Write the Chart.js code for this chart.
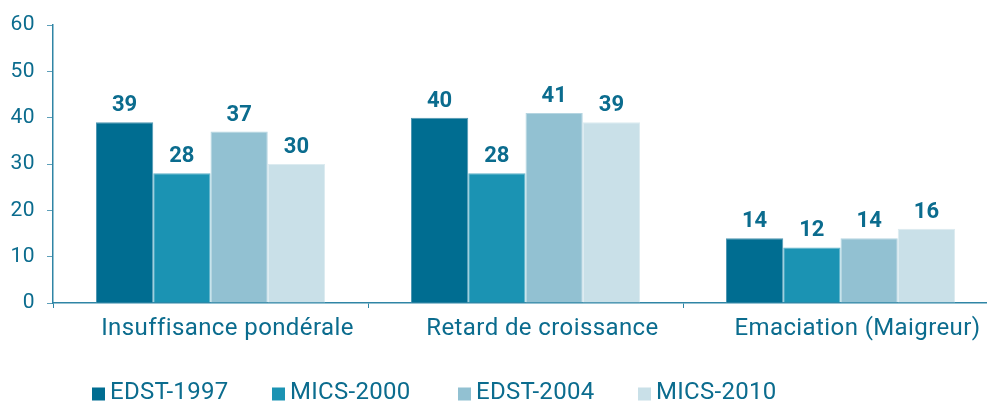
<!DOCTYPE html>
<html>
<head>
<meta charset="utf-8">
<script src="https://cdn.jsdelivr.net/npm/chart.js@4/dist/chart.umd.min.js"></script>
<style>
  html, body { margin: 0; padding: 0; background: #fff; overflow: hidden; }
  #wrap { width: 987px; height: 401px; overflow: hidden; position: relative; }
  canvas { display: block; }
</style>
</head>
<body>
<div id="wrap"><canvas id="c" width="998" height="401"></canvas></div>
<script>
const categories = ["Insuffisance pondérale", "Retard de croissance", "Emaciation (Maigreur)"];
const seriesNames = ["EDST-1997", "MICS-2000", "EDST-2004", "MICS-2010"];
const edst1997 = [39, 40, 14];
const mics2000 = [28, 28, 12];
const edst2004 = [37, 41, 14];
const mics2010 = [30, 39, 16];
const yTicks = [0, 10, 20, 30, 40, 50, 60];

const fills = ["#006d91", "#1b93b3", "#92c1d2", "#c9e0e8"];
const edges = ["#4f97b2", "#5eb2c9", "#b5d5e1", "#dcebf0"];
const TEXT = "#0b6c8e";
const AXIS = "#2f85a5";
const FONT = "Roboto, 'Liberation Sans', sans-serif";

const spacing = {
  id: "spacing",
  beforeDraw(chart) { chart.ctx.letterSpacing = "0.4px"; }
};

const valueLabels = {
  id: "valueLabels",
  afterDatasetsDraw(chart) {
    const ctx = chart.ctx;
    ctx.save();
    ctx.letterSpacing = "0px";
    ctx.font = "bold 22px " + FONT;
    ctx.fillStyle = TEXT;
    ctx.textAlign = "center";
    ctx.textBaseline = "alphabetic";
    chart.data.datasets.forEach((ds, i) => {
      chart.getDatasetMeta(i).data.forEach((bar, j) => {
        ctx.fillText(String(ds.data[j]), bar.x, bar.y - 11);
      });
    });
    ctx.restore();
  }
};

const customLegend = {
  id: "customLegend",
  afterDraw(chart) {
    const ctx = chart.ctx;
    const xs = [92, 272, 458, 638];
    ctx.save();
    ctx.letterSpacing = "0.3px";
    ctx.font = "24px " + FONT;
    ctx.textBaseline = "alphabetic";
    ctx.textAlign = "left";
    chart.data.datasets.forEach((ds, i) => {
      ctx.fillStyle = ds.backgroundColor;
      ctx.fillRect(xs[i], 387.5, 13, 13);
      ctx.fillStyle = TEXT;
      ctx.fillText(ds.label, xs[i] + 18, 399);
    });
    ctx.restore();
  }
};

const seriesData = [edst1997, mics2000, edst2004, mics2010];

new Chart(document.getElementById("c"), {
  type: "bar",
  data: {
    labels: categories,
    datasets: seriesNames.map((name, i) => ({
      label: name,
      data: seriesData[i],
      backgroundColor: fills[i],
      borderColor: edges[i],
      borderWidth: 1,
      barPercentage: 1.0,
      categoryPercentage: 0.727
    }))
  },
  options: {
    responsive: false,
    animation: false,
    devicePixelRatio: 1,
    layout: { padding: { top: 25, right: 0, bottom: 0, left: 0 } },
    plugins: {
      legend: { display: false },
      tooltip: { enabled: false }
    },
    scales: {
      x: {
        afterFit(s) { s.height = 98; },
        grid: {
          display: true,
          offset: true,
          drawOnChartArea: false,
          drawTicks: true,
          tickLength: 5,
          color: AXIS,
          lineWidth: 1
        },
        border: { display: true, color: AXIS, width: 1.5 },
        ticks: {
          color: TEXT,
          font: { family: FONT, size: 24 },
          padding: 7,
          labelOffset: 17,
          maxRotation: 0
        }
      },
      y: {
        min: 0,
        max: 60,
        afterFit(s) { s.width = 53; },
        afterBuildTicks(s) { s.ticks = yTicks.map(v => ({ value: v })); },
        grid: {
          display: true,
          drawOnChartArea: false,
          drawTicks: true,
          tickLength: 6,
          color: "#5e9fb9",
          lineWidth: 1
        },
        border: { display: true, color: AXIS, width: 1.5 },
        ticks: {
          color: TEXT,
          font: { family: FONT, size: 21 },
          padding: 12
        }
      }
    }
  },
  plugins: [spacing, valueLabels, customLegend]
});
</script>
</body>
</html>
